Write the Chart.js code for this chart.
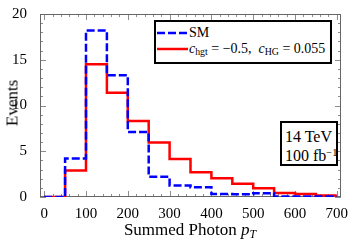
<!DOCTYPE html>
<html>
<head>
<meta charset="utf-8">
<script src="https://cdn.jsdelivr.net/npm/chart.js@4.4.1/dist/chart.umd.min.js"></script>
<style>
  body { margin: 0; background: #fff; }
  #wrap { position: relative; width: 350px; height: 244px; font-family: "Liberation Serif", "DejaVu Serif", serif; color: #000; }
  #chart { position: absolute; left: 0; top: 0; }
  .lbl { position: absolute; white-space: nowrap; line-height: 1; }
  #ytitle { left: 12px; top: 103px; font-size: 17px; transform: translate(-50%, -50%) rotate(-90deg); }
  #xtitle { left: 190px; top: 231px; font-size: 17px; transform: translate(-50%, -50%); }
  #xtitle sub, .box sub { font-size: 70%; vertical-align: -0.25em; }
  .box { position: absolute; border: 2px solid #000; background: #fff; box-sizing: border-box; }
  #legend { left: 154px; top: 20px; width: 178px; height: 44px; }
  #info { left: 280px; top: 121px; width: 58px; height: 45px; font-size: 16px; }
  #info sup { font-size: 65%; vertical-align: 0.5em; }
</style>
</head>
<body>
<div id="wrap">
  <canvas id="chart" width="350" height="244"></canvas>
  <div id="ytitle" class="lbl">Events</div>
  <div id="xtitle" class="lbl">Summed Photon <i>p</i><sub><i>T</i></sub></div>
  <div id="legend" class="box">
    <svg class="lbl" style="left:1px;top:9px" width="31" height="4"><line x1="0" y1="2" x2="31" y2="2" stroke="#0000ff" stroke-width="2.5" stroke-dasharray="8,3"/></svg>
    <div class="lbl" style="left:33px;top:4px;font-size:14px">SM</div>
    <svg class="lbl" style="left:1px;top:25px" width="31" height="4"><line x1="0" y1="2" x2="31" y2="2" stroke="#ff0000" stroke-width="2.5"/></svg>
    <div class="lbl" style="left:33px;top:20px;font-size:14px"><i>c</i><sub>hgt</sub> = −0.5,&nbsp; <i>c</i><sub>HG</sub> = 0.055</div>
  </div>
  <div id="info" class="box">
    <div class="lbl" style="left:3px;top:6px">14 TeV</div>
    <div class="lbl" style="left:3px;top:25px">100 fb<sup>−1</sup></div>
  </div>
</div>
<script>
// Histogram bin edges (Summed photon pT)
const binEdges = [0, 50, 100, 150, 200, 250, 300, 350, 400, 450, 500, 550, 600, 650, 700];

// Events per bin
const smValues = [0, 4.2, 18.2, 13.3, 7.1, 2.2, 1.25, 1.07, 0.32, 0.3, 0.42, 0.05, 0.05, 0.05];
const bsmValues = [0, 2.9, 14.5, 11.4, 8.3, 5.95, 4.15, 2.7, 2.05, 1.45, 0.96, 0.45, 0.33, 0.16];

// Tick labels
const xTicks = [0, 100, 200, 300, 400, 500, 600, 700];
const yTicks = [0, 5, 10, 15, 20];
const xMinorStep = 20;
const yMinorStep = 1;

// stepped points: each bin value starts at its left edge, last edge repeats last value
function histPoints(values) {
  const pts = values.map((v, i) => ({ x: binEdges[i], y: v }));
  pts.push({ x: binEdges[binEdges.length - 1], y: values[values.length - 1] });
  return pts;
}

// Mathematica style frame with inward ticks on all four sides
const frameTicks = {
  id: 'frameTicks',
  beforeDatasetsDraw(chart) {
    const { ctx, chartArea: a, scales: { x, y } } = chart;
    ctx.save();
    ctx.lineWidth = 1;
    ctx.strokeStyle = '#8c8c8c';
    ctx.beginPath();
    for (let v = 0; v <= xTicks[xTicks.length - 1]; v += xMinorStep) {
      const px = Math.round(x.getPixelForValue(v)) + 0.5;
      const len = xTicks.includes(v) ? 6 : 3;
      ctx.moveTo(px, a.bottom); ctx.lineTo(px, a.bottom - len);
      ctx.moveTo(px, a.top); ctx.lineTo(px, a.top + len);
    }
    for (let v = 0; v <= y.max; v += yMinorStep) {
      const py = Math.round(y.getPixelForValue(v)) + 0.5;
      const len = yTicks.includes(v) ? 6 : 3;
      ctx.moveTo(a.left, py); ctx.lineTo(a.left + len, py);
      ctx.moveTo(a.right, py); ctx.lineTo(a.right - len, py);
    }
    ctx.stroke();
    ctx.strokeStyle = '#666';
    ctx.strokeRect(a.left + 0.5, a.top + 0.5, a.width - 1, a.height - 1);
    ctx.restore();
  }
};

const ctx = document.getElementById('chart').getContext('2d');
const tickFont = { family: '"Liberation Serif", serif', size: 15 };

new Chart(ctx, {
  type: 'line',
  data: {
    datasets: [
      {
        label: 'SM',
        data: histPoints(smValues),
        borderColor: '#0000ff',
        borderWidth: 2.5,
        borderDash: [8, 3],
        stepped: true,
        pointRadius: 0,
        fill: false
      },
      {
        label: 'c_hgt = -0.5, c_HG = 0.055',
        data: histPoints(bsmValues),
        borderColor: '#ff0000',
        borderWidth: 2.5,
        stepped: true,
        pointRadius: 0,
        fill: false
      }
    ]
  },
  options: {
    responsive: false,
    animation: false,
    layout: { padding: { top: 10, right: 9, left: 0, bottom: 0 } },
    plugins: { legend: { display: false }, tooltip: { enabled: false } },
    scales: {
      x: {
        type: 'linear',
        min: -10,
        max: 710,
        afterBuildTicks: s => { s.ticks = xTicks.map(v => ({ value: v })); },
        afterFit: s => { s.height = 47; },
        grid: { display: false },
        border: { display: false },
        ticks: { color: '#000', font: tickFont, padding: 0, maxRotation: 0, autoSkip: false }
      },
      y: {
        min: 0,
        max: 20,
        afterBuildTicks: s => { s.ticks = yTicks.map(v => ({ value: v })); },
        afterFit: s => { s.width = 40; },
        grid: { display: false },
        border: { display: false },
        ticks: { color: '#000', font: tickFont, padding: 5 }
      }
    }
  },
  plugins: [frameTicks]
});
</script>
</body>
</html>
